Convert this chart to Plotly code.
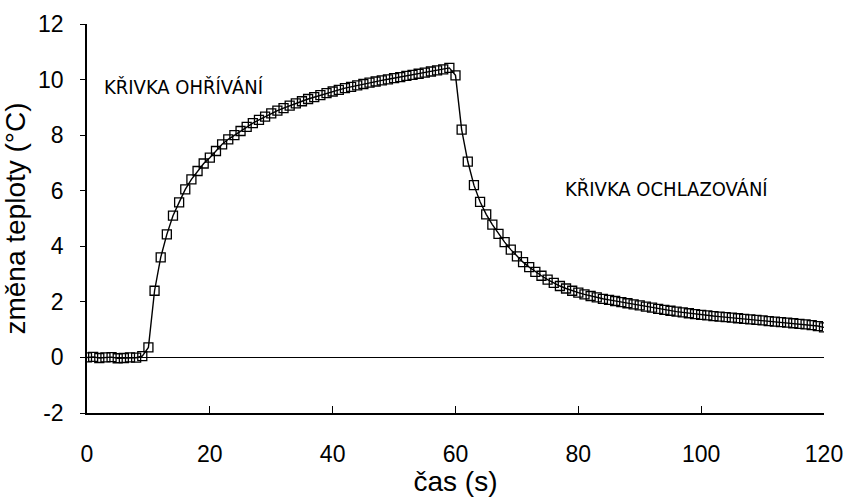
import plotly.graph_objects as go

time_s = list(range(0, 121))

baseline = [0.0, 0.02, -0.02, 0.0, 0.01, -0.03, -0.02, 0.0, -0.01, 0.05]
heating = [0.36, 2.4, 3.6, 4.43, 5.1, 5.58, 6.05, 6.41, 6.71, 6.98,
           7.19, 7.43, 7.67, 7.85, 8.0, 8.15, 8.3, 8.43, 8.55, 8.67,
           8.78, 8.88, 8.97, 9.06, 9.14, 9.22, 9.3, 9.37, 9.44, 9.51,
           9.57, 9.63, 9.69, 9.74, 9.79, 9.84, 9.89, 9.93, 9.97, 10.01,
           10.05, 10.09, 10.13, 10.17, 10.21, 10.25, 10.29, 10.33, 10.37, 10.42]
cooling = [10.15, 8.2, 7.05, 6.2, 5.6, 5.15, 4.78, 4.45, 4.15, 3.88,
           3.64, 3.43, 3.25, 3.08, 2.94, 2.8, 2.68, 2.57, 2.48, 2.4,
           2.33, 2.27, 2.21, 2.16, 2.11, 2.07, 2.03, 1.99, 1.95, 1.91,
           1.87, 1.83, 1.79, 1.75, 1.71, 1.68, 1.65, 1.62, 1.59, 1.56,
           1.53, 1.51, 1.49, 1.47, 1.45, 1.43, 1.41, 1.39, 1.37, 1.35,
           1.33, 1.31, 1.29, 1.27, 1.25, 1.23, 1.21, 1.19, 1.16, 1.13, 1.08]
temp_change = baseline + heating + cooling

x_ticks = [0, 20, 40, 60, 80, 100, 120]
y_ticks = [-2, 0, 2, 4, 6, 8, 10, 12]
y_tick_labels = ["-2", "0", "2", "4", "6", "8", "10", "12"]

label_heat = "KŘIVKA OHŘÍVÁNÍ"
label_cool = "KŘIVKA OCHLAZOVÁNÍ"

fig = go.Figure()
fig.add_trace(go.Scatter(
    x=time_s, y=temp_change, mode="lines+markers",
    line=dict(color="black", width=1.4),
    marker=dict(symbol="square-open", size=9, color="black", line=dict(width=1.3, color="black")),
    showlegend=False,
))

tickfont = dict(family="Liberation Sans, Arial", size=23, color="black")
annfont = dict(family="DejaVu Sans Condensed, DejaVu Sans", size=20, color="black")

fig.update_layout(
    width=845, height=497,
    margin=dict(l=87, r=21, t=24, b=84),
    paper_bgcolor="white", plot_bgcolor="white",
    xaxis=dict(
        range=[0, 120], tickvals=x_ticks, ticks="inside", ticklen=7, tickwidth=1.3,
        tickcolor="black", showline=True, linecolor="black", linewidth=1.6,
        showgrid=False, zeroline=False, tickfont=tickfont, ticklabelstandoff=20,
        automargin=False,
        title=dict(text="čas (s)", font=dict(family="Liberation Sans, Arial", size=28, color="black"), standoff=2),
    ),
    yaxis=dict(
        range=[-2, 12], tickvals=y_ticks, ticktext=y_tick_labels, ticks="outside", ticklen=5, tickwidth=1.3,
        tickcolor="black", showline=True, linecolor="black", linewidth=1.6,
        showgrid=False, zeroline=True, zerolinecolor="black", zerolinewidth=1,
        tickfont=tickfont, ticklabelstandoff=12, automargin=False,
        title=dict(text="změna teploty (°C)", font=dict(family="Liberation Sans, Arial", size=28, color="black"), standoff=4),
    ),
    annotations=[
        dict(x=2.4, y=9.75, xref="x", yref="y", text=label_heat, showarrow=False,
             xanchor="left", yanchor="middle", font=annfont),
        dict(x=77.5, y=6.05, xref="x", yref="y", text=label_cool, showarrow=False,
             xanchor="left", yanchor="middle", font=annfont),
    ],
)

fig.write_html("out.html")
